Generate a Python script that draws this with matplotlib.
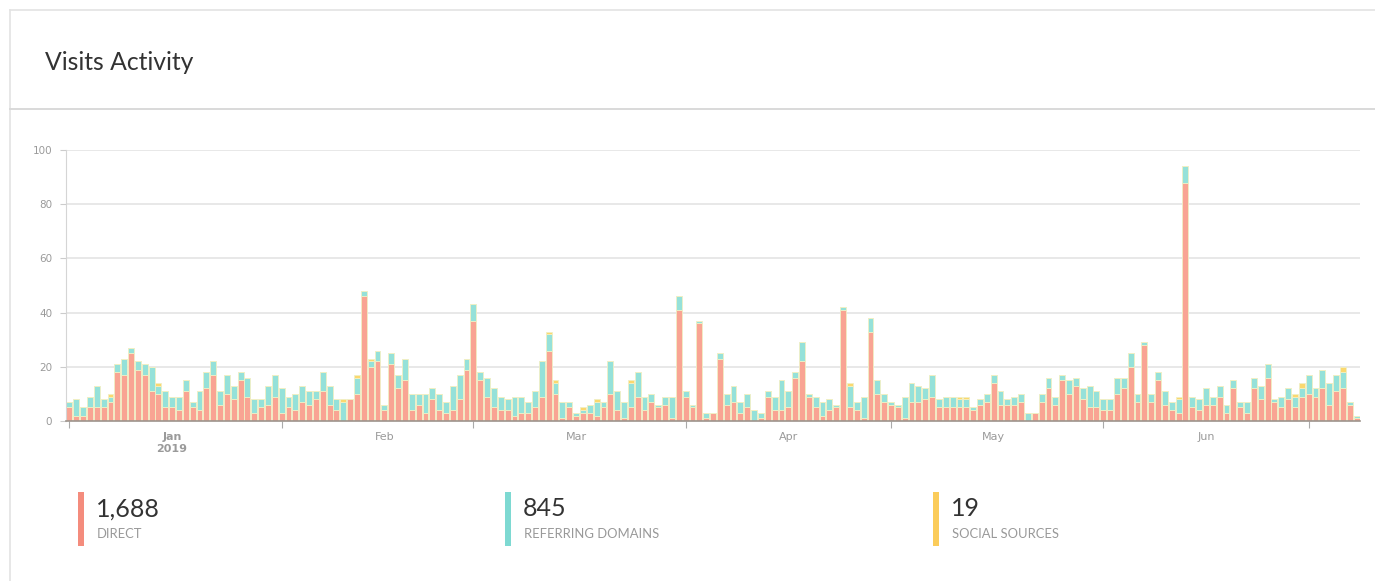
import numpy as np
import pandas as pd
import matplotlib
matplotlib.use('Agg')
import matplotlib.pyplot as plt
import matplotlib.dates as mdates
from matplotlib.patches import Rectangle
from matplotlib.lines import Line2D

W, H = 1375, 581

# daily visits, starting 2019-01-01
START_DATE = '2019-01-01'

DIRECT = [
    5, 2, 2, 5, 5, 5, 7, 18, 17, 25,
    19, 17, 11, 10, 5, 5, 4, 11, 5, 4,
    12, 17, 6, 10, 8, 15, 9, 3, 5, 6,
    9, 3, 5, 4, 7, 6, 8, 11, 6, 4,
    0, 8, 10, 46, 20, 22, 4, 21, 12, 15,
    4, 6, 3, 8, 4, 3, 4, 8, 19, 37,
    15, 9, 5, 4, 4, 2, 3, 3, 5, 9,
    26, 10, 1, 5, 2, 3, 3, 2, 5, 10,
    4, 1, 5, 9, 4, 7, 5, 6, 1, 41,
    9, 5, 36, 1, 3, 23, 6, 7, 3, 5,
    0, 1, 9, 4, 4, 5, 16, 22, 9, 5,
    2, 4, 5, 41, 5, 4, 1, 33, 10, 7,
    6, 5, 1, 7, 7, 8, 9, 5, 5, 5,
    5, 5, 4, 6, 7, 14, 6, 6, 6, 7,
    0, 3, 7, 12, 6, 15, 10, 13, 8, 5,
    5, 4, 4, 10, 12, 20, 7, 28, 7, 15,
    6, 4, 3, 88, 5, 4, 6, 6, 9, 3,
    12, 5, 3, 12, 8, 16, 7, 5, 8, 5,
    9, 10, 9, 12, 6, 11, 12, 6, 1,
]

REFERRING = [
    2, 6, 3, 4, 8, 3, 2, 3, 6, 2,
    3, 4, 9, 3, 6, 4, 5, 4, 2, 7,
    6, 5, 5, 7, 5, 3, 7, 5, 3, 7,
    8, 9, 4, 6, 6, 5, 3, 7, 7, 4,
    7, 0, 6, 2, 2, 4, 2, 4, 5, 8,
    6, 4, 7, 4, 6, 4, 9, 9, 4, 6,
    3, 7, 7, 5, 4, 7, 6, 4, 6, 13,
    6, 4, 6, 2, 1, 1, 3, 5, 2, 12,
    7, 6, 9, 9, 5, 3, 1, 3, 8, 5,
    2, 1, 1, 2, 0, 2, 4, 6, 4, 5,
    4, 2, 2, 5, 11, 6, 2, 7, 1, 4,
    5, 4, 1, 1, 8, 3, 8, 5, 5, 3,
    1, 1, 8, 7, 6, 4, 8, 3, 4, 4,
    3, 3, 1, 2, 3, 3, 5, 2, 3, 3,
    3, 0, 3, 4, 3, 2, 5, 3, 4, 8,
    6, 4, 4, 6, 4, 5, 3, 1, 3, 3,
    5, 3, 5, 6, 4, 4, 6, 3, 4, 3,
    3, 2, 4, 4, 5, 5, 1, 4, 4, 4,
    3, 7, 3, 7, 8, 6, 6, 1, 1,
]

SOCIAL = [
    0, 0, 0, 0, 0, 0, 1, 0, 0, 0,
    0, 0, 0, 1, 0, 0, 0, 0, 0, 0,
    0, 0, 0, 0, 0, 0, 0, 0, 0, 0,
    0, 0, 0, 0, 0, 0, 0, 0, 0, 0,
    1, 0, 1, 0, 1, 0, 0, 0, 0, 0,
    0, 0, 0, 0, 0, 0, 0, 0, 0, 0,
    0, 0, 0, 0, 0, 0, 0, 0, 0, 0,
    1, 1, 0, 0, 0, 1, 0, 1, 0, 0,
    0, 0, 1, 0, 0, 0, 0, 0, 0, 0,
    0, 0, 0, 0, 0, 0, 0, 0, 0, 0,
    0, 0, 0, 0, 0, 0, 0, 0, 0, 0,
    0, 0, 0, 0, 1, 0, 0, 0, 0, 0,
    0, 0, 0, 0, 0, 0, 0, 0, 0, 0,
    1, 1, 0, 0, 0, 0, 0, 0, 0, 0,
    0, 0, 0, 0, 0, 0, 0, 0, 0, 0,
    0, 0, 0, 0, 0, 0, 0, 0, 0, 0,
    0, 0, 1, 0, 0, 0, 0, 0, 0, 0,
    0, 0, 0, 0, 0, 0, 0, 0, 0, 1,
    2, 0, 0, 0, 0, 0, 2, 0, 0,
]

Y_TICKS = [0, 20, 40, 60, 80, 100]
LEGEND_VALUES = ['1,688', '845', '19']
LEGEND_LABELS = ['DIRECT', 'REFERRING DOMAINS', 'SOCIAL SOURCES']

BAR_COLORS = ['#f9a493', '#95e1d9', '#fbd86e']
KEY_COLORS = ['#f48c7d', '#7ed9d2', '#fbcc5a']
EDGE = '#f1efc4'
GRID = '#e2e2e2'
TICK_TXT = '#9a9a9a'


def fx(px):
    return px / W


def fy(py):
    return 1 - py / H


fig = plt.figure(figsize=(W / 100, H / 100), dpi=100)
fig.patch.set_facecolor('white')

# card frame + header
line_kw = dict(transform=fig.transFigure, color='#e3e3e3', lw=1.2)
fig.add_artist(Line2D([fx(10), 1], [fy(10), fy(10)], **line_kw))
fig.add_artist(Line2D([fx(10), fx(10)], [fy(10), 0], **line_kw))
fig.add_artist(Line2D([fx(10), 1], [fy(108.5), fy(108.5)],
                      transform=fig.transFigure, color='#d9d9d9', lw=1.4))
fig.text(fx(45), fy(62.5), 'Visits Activity', fontsize=17.8, family='Lato',
         color='#333333', va='center', ha='left')

# chart
ax = fig.add_axes([fx(66), fy(421), fx(1360 - 66), (421 - 150) / H])
dates = pd.date_range(START_DATE, periods=len(DIRECT), freq='D')
direct = np.array(DIRECT)
referring = np.array(REFERRING)
social = np.array(SOCIAL)

bar_kw = dict(width=0.86, edgecolor=EDGE, linewidth=0.6, align='center')
ax.bar(dates, direct, color=BAR_COLORS[0], **bar_kw)
ax.bar(dates, referring, bottom=direct, color=BAR_COLORS[1], **bar_kw)
ax.bar(dates, social, bottom=direct + referring, color=BAR_COLORS[2], **bar_kw)

ax.set_xlim(dates[0] - pd.Timedelta(hours=12), dates[-1] + pd.Timedelta(hours=12))
ax.set_ylim(0, 100)
ax.set_yticks(Y_TICKS)
ax.yaxis.grid(True, color=GRID, lw=1.1)
ax.set_axisbelow(True)
ax.tick_params(axis='y', length=4, color='#cccccc', labelsize=7.5,
               labelcolor=TICK_TXT, pad=6)

# month boundaries as ticks, month names centred inside each month
ax.xaxis.set_major_locator(mdates.MonthLocator())
ax.xaxis.set_major_formatter(plt.NullFormatter())
ax.xaxis.set_minor_locator(mdates.MonthLocator(bymonthday=16))


def month_fmt(x, pos=None):
    d = mdates.num2date(x)
    if d.month == 1:
        return d.strftime('%b\n%Y')
    return d.strftime('%b')


ax.xaxis.set_minor_formatter(plt.FuncFormatter(month_fmt))
ax.tick_params(axis='x', which='major', length=5, color='#aaaaaa')
ax.tick_params(axis='x', which='minor', length=0, labelsize=8,
               labelcolor=TICK_TXT, pad=8)
for lbl in ax.xaxis.get_minorticklabels():
    if '\n' in lbl.get_text():
        lbl.set_fontweight('bold')

for s in ['top', 'right']:
    ax.spines[s].set_visible(False)
ax.spines['left'].set_color('#d5d5d5')
ax.spines['bottom'].set_color('#9d948c')
ax.spines['bottom'].set_linewidth(1.2)

# summary keys
key_x = [78, 505, 933]
for x0, col, val, lab in zip(key_x, KEY_COLORS, LEGEND_VALUES, LEGEND_LABELS):
    fig.add_artist(Rectangle((fx(x0), fy(546)), fx(6), (546 - 492) / H,
                             transform=fig.transFigure, color=col, lw=0))
    fig.text(fx(x0 + 18), fy(509), val, fontsize=18, family='Lato',
             color='#333333', va='center', ha='left')
    fig.text(fx(x0 + 19), fy(534.5), lab, fontsize=9.4, family='Lato',
             color='#999999', va='center', ha='left')

fig.savefig('out.png', dpi=100)
